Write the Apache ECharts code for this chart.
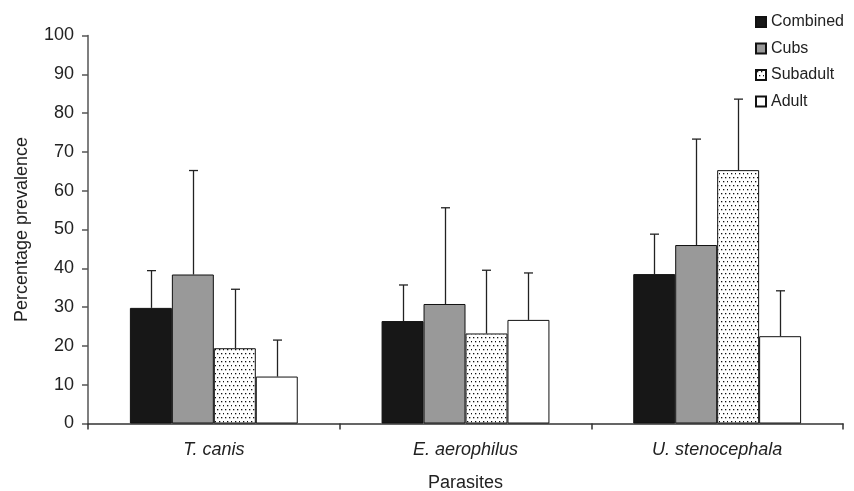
<!DOCTYPE html>
<html><head><meta charset="utf-8">
<script src="https://cdn.jsdelivr.net/npm/echarts@6/dist/echarts.min.js"></script>
<style>html,body{margin:0;padding:0;background:#fff}#c{width:854px;height:491px}</style>
</head><body><div id="c"></div>
<script>
var categories = ['T. canis', 'E. aerophilus', 'U. stenocephala'];
var groupNames = ['Combined', 'Cubs', 'Subadult', 'Adult'];
var combined = [29.8, 26.4, 38.5];
var cubs = [38.4, 30.8, 46.0];
var subadult = [19.4, 23.2, 65.3];
var adult = [12.1, 26.7, 22.5];
var combinedUpper = [39.4, 35.7, 48.8];
var cubsUpper = [65.2, 55.6, 73.3];
var subadultUpper = [34.6, 39.5, 83.6];
var adultUpper = [21.5, 38.8, 34.2];
var yTicks = [0, 10, 20, 30, 40, 50, 60, 70, 80, 90, 100];

var values = [combined, cubs, subadult, adult];
var uppers = [combinedUpper, cubsUpper, subadultUpper, adultUpper];

// dotted pattern
var pc = document.createElement('canvas');
pc.width = 8; pc.height = 8;
var g = pc.getContext('2d');
g.fillStyle = '#fff'; g.fillRect(0, 0, 8, 8);
g.fillStyle = '#111';
[[1,1],[5,1],[3,5],[7,5]].forEach(function(p){ g.fillRect(p[0], p[1], 1.3, 1.3); });
var dotPattern = { image: pc, repeat: 'repeat' };

var fills = ['#171717', '#999999', dotPattern, '#ffffff'];
var barCatGap = 1/3;

var series = groupNames.map(function(name, i){
  return {
    name: name, type: 'bar', data: values[i], barGap: '0%', barCategoryGap: '33.3%',
    itemStyle: { color: fills[i], borderColor: '#111', borderWidth: 1 },
    z: 2
  };
});

var errData = [];
for (var s = 0; s < 4; s++) for (var c = 0; c < categories.length; c++) errData.push([c, uppers[s][c], s, values[s][c]]);

series.push({
  type: 'custom', data: errData, z: 1,
  encode: { x: 0, y: 1 },
  renderItem: function(params, api){
    var cat = api.value(0), up = api.value(1), si = api.value(2), v = api.value(3);
    var band = api.size([1, 0])[0];
    var bw = band * (1 - barCatGap) / 4;
    var base = api.coord([cat, v]);
    var top = api.coord([cat, up]);
    var x = base[0] + (si - 1.5) * bw;
    x = Math.round(x) + 0.5;
    var style = { stroke: '#222', lineWidth: 1.3 };
    return { type: 'group', children: [
      { type: 'line', shape: { x1: x, y1: base[1], x2: x, y2: top[1] }, style: style },
      { type: 'line', shape: { x1: x - 4.5, y1: top[1], x2: x + 4.5, y2: top[1] }, style: style }
    ]};
  }
});

var chart = echarts.init(document.getElementById('c'));
chart.setOption({
  animation: false,
  backgroundColor: '#fff',
  textStyle: { fontFamily: 'Liberation Sans, Arial, sans-serif' },
  legend: {
    data: groupNames, orient: 'vertical', left: 750, top: 9,
    itemWidth: 10, itemHeight: 10, itemGap: 10.5, icon: 'rect',
    textStyle: { fontSize: 16, color: '#222' },
    selectedMode: false
  },
  grid: { left: 88, right: 11, top: 35.5, bottom: 67.5, containLabel: false, outerBoundsMode: 'none' },
  xAxis: {
    type: 'category', data: categories,
    name: 'Parasites', nameLocation: 'middle', nameGap: 51,
    nameTextStyle: { fontSize: 18, color: '#222' },
    axisLine: { lineStyle: { color: '#333', width: 1.5 } },
    axisTick: { show: true, length: 6, lineStyle: { color: '#333', width: 1.5 } },
    axisLabel: { fontSize: 18, fontStyle: 'italic', color: '#222', margin: 17 }
  },
  yAxis: {
    type: 'value', min: yTicks[0], max: yTicks[yTicks.length - 1], interval: 10,
    name: 'Percentage prevalence', nameLocation: 'middle', nameGap: 57,
    nameTextStyle: { fontSize: 18, color: '#222' },
    axisLine: { show: true, lineStyle: { color: '#555', width: 1.5 } },
    axisTick: { show: true, length: 6, lineStyle: { color: '#555', width: 1.5 } },
    axisLabel: { fontSize: 18, color: '#222', margin: 14 },
    splitLine: { show: false }
  },
  series: series
});
</script></body></html>
